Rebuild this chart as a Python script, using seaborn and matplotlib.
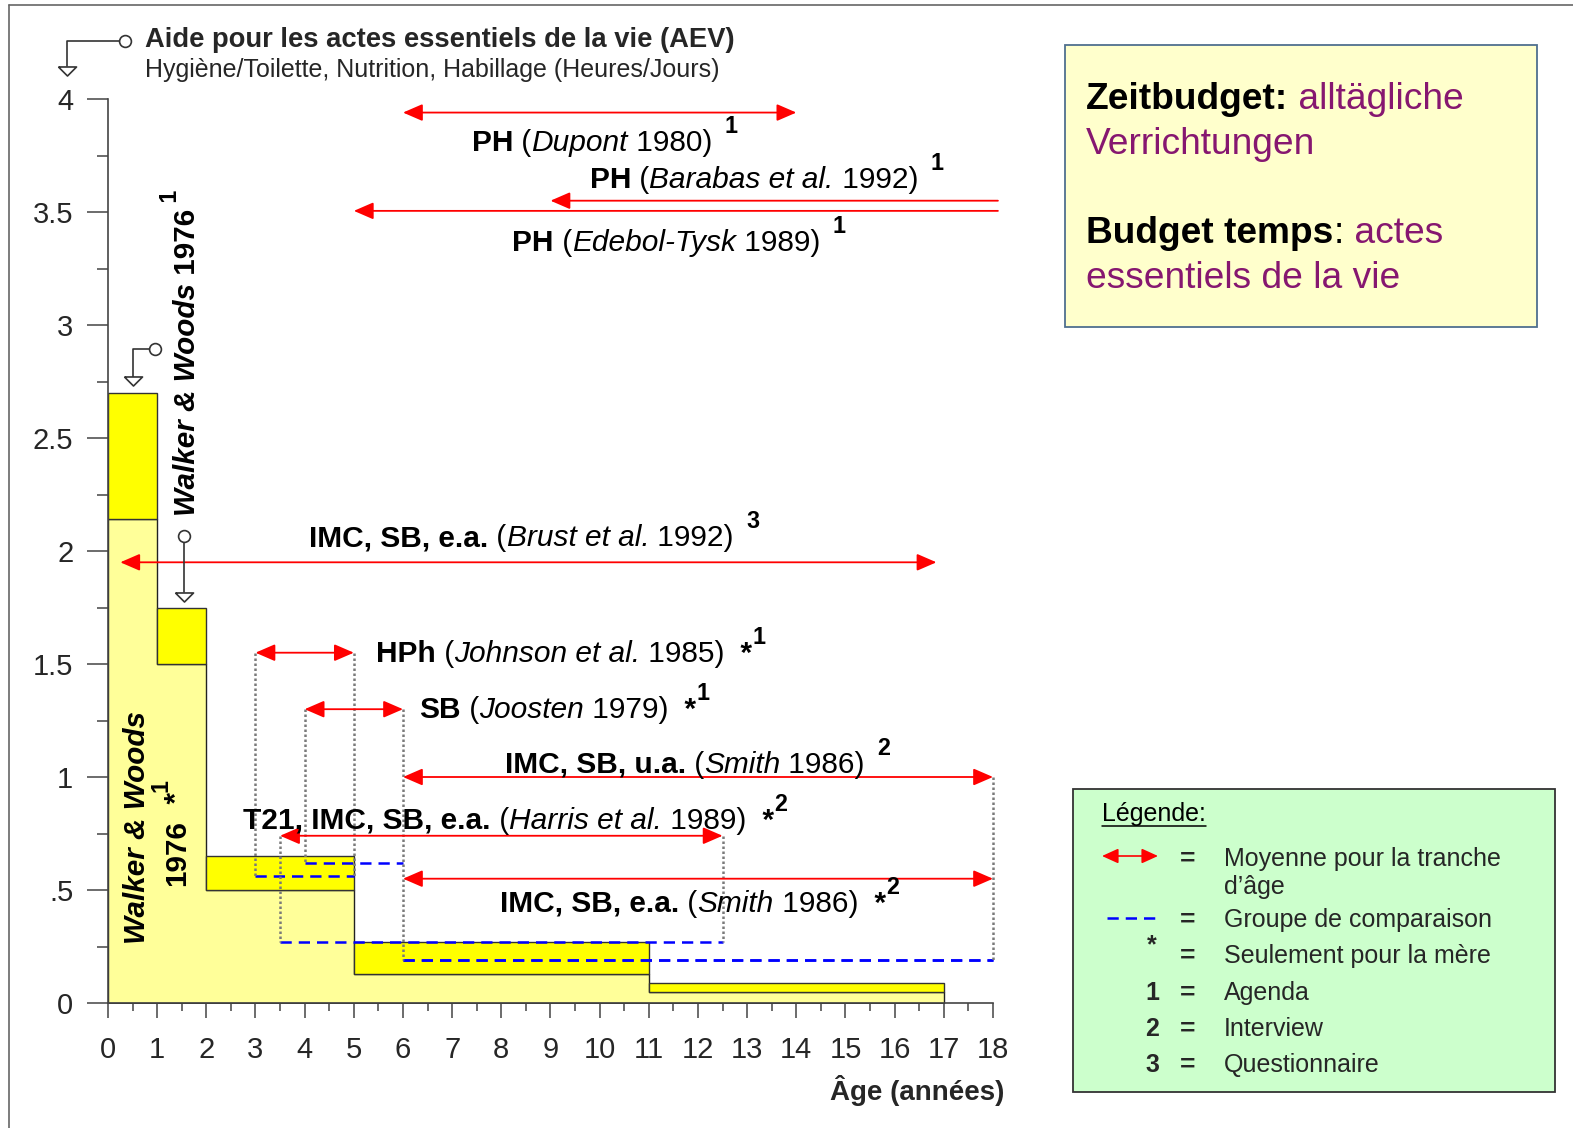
import numpy as np
import pandas as pd
import matplotlib
matplotlib.use('Agg')
import matplotlib.pyplot as plt
import matplotlib.transforms as mtrans
from matplotlib.lines import Line2D
from matplotlib.patches import Rectangle, FancyArrowPatch
import seaborn as sns

# ---- data -------------------------------------------------------------
age_edges = [0, 1, 2, 5, 11, 17]
aev_mother = [2.14, 1.5, 0.5, 0.13, 0.05]      # pale yellow steps
aev_disabled = [2.70, 1.75, 0.65, 0.27, 0.09]  # bright yellow tops

study_from = [6, 9, 5, 0.25, 3, 4, 6, 3.5, 6]
study_to = [14, 18.1, 18.1, 16.85, 5, 6, 18, 12.5, 18]
study_mean = [3.94, 3.55, 3.505, 1.95, 1.55, 1.30, 1.0, 0.74, 0.55]
study_heads = ['<|-|>', '<|-', '<|-', '<|-|>', '<|-|>', '<|-|>', '<|-|>', '<|-|>', '<|-|>']
study_comp = [None, None, None, None, 0.56, 0.62, 0.19, 0.27, 0.19]

y_ticks = [0, 0.5, 1, 1.5, 2, 2.5, 3, 3.5, 4]
y_tick_labels = ['0', '.5', '1', '1.5', '2', '2.5', '3', '3.5', '4']
x_ticks = list(range(0, 19))

study_labels = [
    [('PH', 'b'), (' (', 'n'), ('Dupont', 'i'), (' 1980)', 'n'), ('  1', 'sup')],
    [('PH', 'b'), (' (', 'n'), ('Barabas et al.', 'i'), (' 1992)', 'n'), ('  1', 'sup')],
    [('PH', 'b'), (' (', 'n'), ('Edebol-Tysk', 'i'), (' 1989)', 'n'), ('  1', 'sup')],
    [('IMC, SB, e.a.', 'b'), (' (', 'n'), ('Brust et al.', 'i'), (' 1992)', 'n'), ('  3', 'sup')],
    [('HPh', 'b'), (' (', 'n'), ('Johnson et al.', 'i'), (' 1985)', 'n'), ('  *', 'b'), ('1', 'sup')],
    [('SB', 'b'), (' (', 'n'), ('Joosten', 'i'), (' 1979)', 'n'), ('  *', 'b'), ('1', 'sup')],
    [('IMC, SB, u.a.', 'b'), (' (', 'n'), ('Smith', 'i'), (' 1986)', 'n'), ('  2', 'sup')],
    [('T21, IMC, SB, e.a.', 'b'), (' (', 'n'), ('Harris et al.', 'i'), (' 1989)', 'n'), ('  *', 'b'), ('2', 'sup')],
    [('IMC, SB, e.a.', 'b'), (' (', 'n'), ('Smith', 'i'), (' 1986)', 'n'), ('  *', 'b'), ('2', 'sup')],
]
# left / baseline of each label, in data units
label_pos = [(7.40, 3.77), (9.80, 3.606), (8.22, 3.327), (4.09, 2.022), (5.45, 1.509),
             (6.33, 1.261), (8.07, 1.018), (2.75, 0.770), (7.97, 0.403)]

PURPLE = '#861770'

# ---- figure -------------------------------------------------------------
sns.set_theme(style='white')
plt.rcParams['font.family'] = ['Liberation Sans', 'DejaVu Sans']

W, H = 1573, 1128
fig = plt.figure(figsize=(W / 100, H / 100), dpi=100)
renderer = fig.canvas.get_renderer()
T_px = mtrans.Affine2D().scale(1, -1).translate(0, H)   # pixels from top-left

STYLES = {'n': ('normal', 'normal'), 'b': ('bold', 'normal'), 'i': ('normal', 'italic'),
          'bi': ('bold', 'italic'), 'sup': ('bold', 'normal')}


def text_width(s, size, weight, style):
    t1 = fig.text(0, 0, s + '|', size=size, weight=weight, style=style)
    t2 = fig.text(0, 0, '|', size=size, weight=weight, style=style)
    w = t1.get_window_extent(renderer).width - t2.get_window_extent(renderer).width
    t1.remove()
    t2.remove()
    return w


def rich(x, y, parts, transform, size, rotation=0, align='left', color='black'):
    items = []
    for p in parts:
        s, kind = p[0], p[1]
        col = p[2] if len(p) > 2 else color
        weight, style = STYLES[kind]
        sz = size * 0.78 if kind == 'sup' else size
        rise = size * 0.6 if kind == 'sup' else 0
        items.append((s, sz, weight, style, rise, text_width(s, sz, weight, style), col))
    total = sum(i[5] for i in items)
    pos = {'left': 0, 'center': -total / 2, 'right': -total}[align]
    c, sn = np.cos(np.deg2rad(rotation)), np.sin(np.deg2rad(rotation))
    for s, sz, weight, style, rise, w, col in items:
        r = rise * fig.dpi / 72
        tr = mtrans.offset_copy(transform, fig=fig, x=pos * c - r * sn, y=pos * sn + r * c, units='dots')
        fig.text(x, y, s, transform=tr, size=sz, weight=weight, style=style, color=col,
                 ha='left', va='baseline', rotation=rotation, rotation_mode='anchor')
        pos += w
    return total


ax = fig.add_axes([108 / W, 1 - 1003 / H, (993 - 108) / W, (1003 - 99) / H])

# pale (mother) steps and bright extra bars
ax.fill_between(age_edges, aev_mother + [aev_mother[-1]], step='post',
                facecolor='#FFFF99', edgecolor='#222222', lw=1, zorder=1)
ax.bar(age_edges[:-1], np.subtract(aev_disabled, aev_mother), bottom=aev_mother,
       width=np.diff(age_edges), align='edge', color='#FFFF00', edgecolor='#333333',
       lw=1, zorder=2)

# comparison groups (blue dashed)
rows = []
for i, cval in enumerate(study_comp):
    if cval is None:
        continue
    rows.append((i, study_from[i], cval))
    rows.append((i, study_to[i], cval))
comp_df = pd.DataFrame(rows, columns=['seg', 'x', 'y'])
sns.lineplot(data=comp_df, x='x', y='y', units='seg', estimator=None, sort=False,
             color='#0000FF', lw=1.8, linestyle=(0, (4.5, 2.8)), ax=ax, legend=False,
             zorder=3, clip_on=False)

# dotted connectors from mean arrows down to comparison lines
vert = {}
for i, cval in enumerate(study_comp):
    if cval is None:
        continue
    for xv in (study_from[i], study_to[i]):
        top, bot = vert.get(xv, (-1, 9))
        vert[xv] = (max(top, study_mean[i]), min(bot, cval))
for xv, (top, bot) in vert.items():
    ax.plot([xv, xv], [top, bot], color='#7a7a7a', lw=1.8, ls=(0, (1, 1)), zorder=3,
            clip_on=False)

# red mean arrows
for f, t, m, hs in zip(study_from, study_to, study_mean, study_heads):
    style = hs + ',head_length=0.6,head_width=0.26'
    ax.annotate('', xy=(t, m), xytext=(f, m), annotation_clip=False,
                arrowprops=dict(arrowstyle=style, color='red', lw=1.3, shrinkA=0, shrinkB=0,
                                mutation_scale=20), zorder=4)

for parts, (lx, ly) in zip(study_labels, label_pos):
    rich(lx, ly, parts, ax.transData, 21.5)

# axes styling
ax.set_xlim(0, 18)
ax.set_ylim(0, 4)
ax.set_xlabel('')
ax.set_ylabel('')
ax.set_xticks(x_ticks)
ax.set_xticklabels([str(v) for v in x_ticks])
ax.set_xticks(np.arange(0.5, 18, 1), minor=True)
ax.set_yticks(y_ticks)
ax.set_yticklabels(y_tick_labels)
ax.set_yticks(np.arange(0.25, 4, 0.5), minor=True)
sns.despine(ax=ax)
for sp in ('left', 'bottom'):
    ax.spines[sp].set_color('#444444')
    ax.spines[sp].set_linewidth(1.2)
ax.tick_params(axis='y', which='major', direction='out', length=15, width=1.1,
               color='#444444', labelsize=21, pad=10, left=True)
ax.tick_params(axis='y', which='minor', direction='out', length=8, width=1.1,
               color='#444444', left=True)
ax.tick_params(axis='x', which='major', direction='out', length=11, width=1.1,
               color='#444444', labelsize=21, pad=13, bottom=True)
ax.tick_params(axis='x', which='minor', direction='out', length=6, width=1.1,
               color='#444444', bottom=True)
ax.grid(False)

fig.text(1004, 1100, 'Âge (années)', transform=T_px, size=20, weight='bold',
         ha='right', va='baseline')

# titles
fig.text(145, 47, 'Aide pour les actes essentiels de la vie (AEV)', transform=T_px,
         size=19.7, weight='bold', va='baseline')
fig.text(145, 77, 'Hygiène/Toilette, Nutrition, Habillage (Heures/Jours)', transform=T_px,
         size=18, va='baseline')

# vertical Walker & Woods labels
rich(195, 516, [('Walker & Woods', 'bi'), (' 1976', 'b'), (' 1', 'sup')], T_px, 21.3, rotation=90)
rich(145, 828, [('Walker & Woods', 'bi')], T_px, 21.3, rotation=90, align='center')
rich(185, 833, [('1976', 'b'), ('  *', 'b'), ('1', 'sup')], T_px, 21.3, rotation=90, align='center')

# pointer connectors (circle - line - open triangle)
tri = [(-1, 0.5), (1, 0.5), (0, -0.5), (-1, 0.5)]
for path, circ, tip in [([(120, 41), (67, 41), (67, 66)], (125, 41), (67, 71)),
                        ([(149, 349), (133, 349), (133, 377)], (155, 349), (133, 381)),
                        ([(184, 542), (184, 592)], (184, 536), (184, 597))]:
    xs, ys = zip(*path)
    fig.add_artist(Line2D(xs, ys, transform=T_px, color='#333333', lw=1.2))
    fig.add_artist(Line2D([circ[0]], [circ[1]], transform=T_px, marker='o', ms=8.5,
                          mfc='white', mec='#333333', mew=1.2))
    fig.add_artist(Line2D([tip[0]], [tip[1]], transform=T_px, marker=tri, ms=13,
                          mfc='white', mec='#333333', mew=1.2))

# frame lines of the slide
fig.add_artist(Line2D([9, 9], [5, H], transform=T_px, color='#666666', lw=1.2))
fig.add_artist(Line2D([9, W], [5, 5], transform=T_px, color='#666666', lw=1.2))

# Zeitbudget box
fig.add_artist(Rectangle((1065, 45), 472, 282, transform=T_px, facecolor='#FFFFCC',
                         edgecolor='#4F6F8F', lw=1.3))
rich(1086, 109, [('Zeitbudget:', 'b'), (' alltägliche', 'n', PURPLE)], T_px, 26.7)
rich(1086, 154, [('Verrichtungen', 'n', PURPLE)], T_px, 26.7)
rich(1086, 243, [('Budget temps', 'b'), (':', 'n'), (' actes', 'n', PURPLE)], T_px, 26.7)
rich(1086, 288, [('essentiels de la vie', 'n', PURPLE)], T_px, 26.7)

# legend box
fig.add_artist(Rectangle((1073, 789), 482, 303, transform=T_px, facecolor='#CCFFCC',
                         edgecolor='#333333', lw=1.3))
wl = rich(1102, 821, [('Légende:', 'n')], T_px, 18)
fig.add_artist(Line2D([1102, 1102 + wl], [826, 826], transform=T_px, color='black', lw=1.1))
fig.add_artist(FancyArrowPatch((1102, 856), (1158, 856), transform=T_px,
                               arrowstyle='<|-|>,head_length=0.55,head_width=0.25',
                               mutation_scale=18, color='red', lw=1.2, shrinkA=0, shrinkB=0))
fig.add_artist(Line2D([1107, 1160], [918, 918], transform=T_px, color='#0000FF', lw=1.8,
                      ls=(0, (4.5, 2.8))))
legend_rows = [(866, None, 'Moyenne pour la tranche'), (894, None, 'd’âge'),
               (927, None, 'Groupe de comparaison'), (963, None, 'Seulement pour la mère'),
               (1000, '1', 'Agenda'), (1036, '2', 'Interview'), (1072, '3', 'Questionnaire')]
for by, key, txt in legend_rows:
    if txt != 'd’âge':
        fig.text(1188, by, '=', transform=T_px, size=19, weight='bold', ha='center', va='baseline')
    if key:
        fig.text(1152, by, key, transform=T_px, size=18, weight='bold', ha='center', va='baseline')
    fig.text(1224, by, txt, transform=T_px, size=18, va='baseline')
fig.text(1152, 952, '*', transform=T_px, size=18, weight='bold', ha='center', va='baseline')

fig.savefig('out.png', dpi=100)
